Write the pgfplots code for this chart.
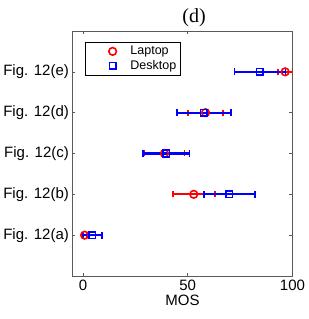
\documentclass[border=0pt]{standalone}
\usepackage{fontspec}
\setmainfont{Liberation Sans}
\newfontfamily\seriffont{Liberation Serif}
\usepackage{pgfplots}
\pgfplotsset{compat=1.18}
\begin{document}
\begin{tikzpicture}
\begin{axis}[
  scale only axis, width=220pt, height=245pt,
  xmin=-5, xmax=100, ymin=0, ymax=6,
  xtick={0,50,100}, ytick={1,2,3,4,5},
  yticklabels={Fig. 12(a),Fig. 12(b),Fig. 12(c),Fig. 12(d),Fig. 12(e)},
  tick align=inside, major tick length=3pt,
  ticklabel style={font=\fontsize{15}{17}\selectfont},
  /pgf/number format/assume math mode=true,
  xlabel={MOS}, xlabel style={font=\fontsize{15}{17}\selectfont, yshift=2pt},
  axis line style={black!65, line width=0.7pt},
  tick style={black!65, line width=0.6pt},
  title={(d)},
  title style={at={(0.553,1)}, anchor=base, yshift=2pt, inner sep=0pt,
    font=\seriffont\fontsize{20}{22}\selectfont},
  legend style={at={(0.055,0.955)}, anchor=north west, font=\fontsize{12.5}{14}\selectfont,
    draw=black, line width=0.6pt, inner xsep=2pt, inner ysep=2pt, row sep=0pt},
  legend cell align=left,
  legend image code/.code={\path (0pt,0pt) (40pt,0pt);\draw[#1] plot coordinates {(25pt,0pt)};},
]
\addplot[red, only marks, mark=o, mark size=3.8pt, line width=1.6pt,
  error bars/.cd, x dir=both, x explicit,
  error bar style={line width=2.2pt, draw=red},
  error mark options={rotate=90, mark size=3pt, line width=1.8pt, red}]
  coordinates {
  (0.8,1) +- (1,0)
  (52.9,2) +- (9.95,0)
  (38.9,3) +- (9.6,0)
  (58.5,4) +- (8.5,0)
  (96.5,5) +- (3.5,0)
};
\addlegendentry{Laptop}
\addplot[blue, only marks, mark=square, mark size=3.3pt, line width=1.6pt,
  error bars/.cd, x dir=both, x explicit,
  error bar style={line width=2.2pt, draw=blue},
  error mark options={rotate=90, mark size=3.5pt, line width=1.8pt, blue}]
  coordinates {
  (4.5,1) +- (4.5,0)
  (69.85,2) +- (12.15,0)
  (39.8,3) +- (11.1,0)
  (57.75,4) +- (12.75,0)
  (84.5,5) +- (12.2,0)
};
\addlegendentry{Desktop}
\end{axis}
\path ([xshift=-72pt,yshift=-43pt]current axis.south west) rectangle ([xshift=13pt,yshift=31pt]current axis.north east);
\end{tikzpicture}
\end{document}
